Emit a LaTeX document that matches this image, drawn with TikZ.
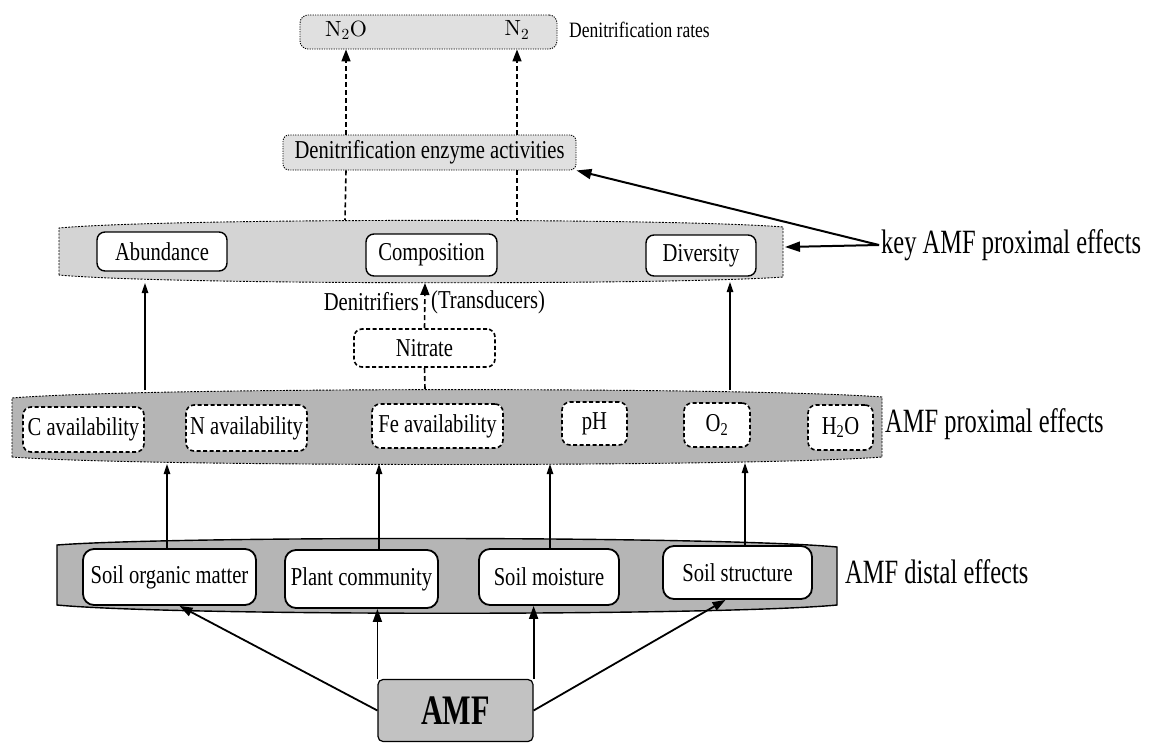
\documentclass[tikz,border=0pt]{standalone}
\usepackage{fontspec}
\setmainfont{Liberation Serif}[FakeStretch=0.8]
\newfontfamily\bigfont{Liberation Serif}[FakeStretch=0.72]
\newfontfamily\lmfont{lmroman10-regular.otf}
\usetikzlibrary{arrows.meta}
\definecolor{keygray}{gray}{0.83}
\definecolor{bandgray}{gray}{0.71}
\definecolor{topgray}{gray}{0.88}
\definecolor{amfgray}{gray}{0.76}
\begin{document}
\begin{tikzpicture}[x=1pt,y=-1pt,
  lab/.style={font=\fontsize{25.75}{28}\selectfont, inner sep=0pt},
  smlab/.style={font=\fontsize{21.9}{24}\selectfont, inner sep=0pt},
  biglab/.style={font=\bigfont\fontsize{34}{36}\selectfont, inner sep=2pt},
  keybox/.style={lab, draw, line width=1.4pt, fill=white, rounded corners=8pt},
  distbox/.style={lab, draw, line width=1.8pt, fill=white, rounded corners=11pt},
  proxbox/.style={lab, draw, line width=1.6pt, dash pattern=on 4pt off 2.5pt, fill=white, rounded corners=8pt},
  dotbox/.style={draw, line width=0.9pt, dash pattern=on 1.2pt off 1.2pt, fill=topgray, rounded corners=8pt},
  bandkey/.style={draw, line width=0.9pt, dash pattern=on 2pt off 1.3pt, fill=keygray},
  bandprox/.style={draw, line width=0.9pt, dash pattern=on 2pt off 1.3pt, fill=bandgray},
  banddist/.style={draw, line width=1.4pt, fill=bandgray},
  thinarr/.style={line width=1.2pt, -{Triangle[length=10pt,width=6.5pt]}},
  dasharr/.style={line width=1.6pt, dash pattern=on 5pt off 3pt, -{Triangle[length=12pt,width=9pt]}},
  dashline/.style={line width=1.6pt, dash pattern=on 5pt off 3pt},
  bigarr/.style={line width=2pt, -{Triangle[length=15pt,width=10pt]}},
  amfarr/.style={line width=1.8pt, -{Triangle[length=13pt,width=9pt]}}
]
\useasboundingbox (0,0) rectangle (1150,742);

% ---------- bands ----------
\draw[bandkey] (59,275) -- (59,228) .. controls (168,218) and (674,218) .. (783,227)
  -- (783,277) .. controls (674,285) and (168,285) .. (59,275) -- cycle;
\draw[bandprox] (12,457) -- (12,398) .. controls (142,387) and (752,387) .. (882,397)
  -- (882,457) .. controls (752,467) and (142,467) .. (12,457) -- cycle;
\draw[banddist] (57,605) -- (57,545) .. controls (174,536) and (720,536) .. (837,547)
  -- (837,605) .. controls (720,616) and (174,616) .. (57,605) -- cycle;

% band anchor coordinates
\coordinate (kbA) at (145,283);
\coordinate (kbC) at (425,283);
\coordinate (kbD) at (730,282);
\coordinate (ktL) at (345,220);
\coordinate (ktR) at (517,220);
\coordinate (kbE) at (785,247);
\coordinate (ptA) at (145,390);
\coordinate (ptC) at (425,389);
\coordinate (ptD) at (730,390);
\coordinate (pb1) at (167,464);
\coordinate (pb2) at (379,464);
\coordinate (pb3) at (550,464);
\coordinate (pb4) at (745,463);

% ---------- top ----------
\node[dotbox, minimum width=257pt, minimum height=34pt] (rates) at (428.5,32) {};
\node[inner sep=0pt, font=\lmfont\fontsize{22}{24}\selectfont] (n2o) at (346,30) {N\textsubscript{2}O};
\node[inner sep=0pt, font=\lmfont\fontsize{22}{24}\selectfont] (n2) at (517,30) {N\textsubscript{2}};
\node[smlab, anchor=west] (rateslbl) at (569,30) {Denitrification rates};

\node[dotbox, lab, rounded corners=6pt, minimum width=293pt, minimum height=35pt] (enz) at (429.5,152.5) {Denitrification enzyme activities};

% ---------- key level ----------
\node[keybox, minimum width=130pt, minimum height=39pt] (abund) at (162,251.5) {Abundance};
\node[keybox, minimum width=131pt, minimum height=42pt] (comp) at (431.5,255) {Composition};
\node[keybox, minimum width=110pt, minimum height=41pt] (div) at (701,255.5) {Diversity};
\node[biglab, anchor=west] (keylbl) at (879,245) {key AMF proximal effects};

\node[lab, anchor=east] (denit) at (419,302) {Denitrifiers};
\node[lab, anchor=west] (trans) at (431,302) {(Transducers)};
\node[proxbox, minimum width=141pt, minimum height=38pt] (nitrate) at (424.5,348) {Nitrate};

% ---------- proximal ----------
\node[proxbox, minimum width=121pt, minimum height=45pt] (cav) at (83.5,429.5) {C availability};
\node[proxbox, minimum width=121pt, minimum height=46pt] (nav) at (246.5,428) {N availability};
\node[proxbox, minimum width=131pt, minimum height=44pt] (feav) at (437.5,426) {Fe availability};
\node[proxbox, minimum width=65pt, minimum height=43pt] (ph) at (594.5,423.5) {pH};
\node[proxbox, minimum width=66pt, minimum height=44pt] (otwo) at (717,425) {O\textsubscript{2}};
\node[proxbox, minimum width=65pt, minimum height=45pt] (htwoo) at (840.5,427.5) {H\textsubscript{2}O};
\node[biglab, anchor=west] (proxlbl) at (883,424) {AMF proximal effects};

% ---------- distal ----------
\node[distbox, minimum width=173pt, minimum height=56pt] (som) at (169.5,577) {Soil organic matter};
\node[distbox, minimum width=153pt, minimum height=58pt] (plant) at (361.5,579) {Plant community};
\node[distbox, minimum width=140pt, minimum height=56pt] (moist) at (549,577) {Soil moisture};
\node[distbox, minimum width=149pt, minimum height=53pt] (struct) at (737.5,572.5) {Soil structure};
\node[biglab, anchor=west] (distlbl) at (843,572) {AMF distal effects};

% ---------- AMF ----------
\node[draw, line width=1.2pt, fill=amfgray, rounded corners=5pt, minimum width=155pt, minimum height=62pt,
  font=\bigfont\bfseries\fontsize{42}{44}\selectfont, inner sep=0pt] (amf) at (455.5,710.5) {AMF};

% ---------- connectors ----------
\draw[dasharr] (n2o |- enz.north) -- (n2o |- rates.south);
\draw[dasharr] (n2 |- enz.north) -- (n2 |- rates.south);
\draw[dashline] (n2o |- enz.south) -- (ktL);
\draw[dashline] (n2 |- enz.south) -- (ktR);

\draw[bigarr] (keylbl.west) -- (kbE);
\draw[bigarr] (keylbl.west) -- (enz.south east);

\draw[thinarr] (ptA) -- (kbA);
\draw[thinarr] (ptD) -- (kbD);
\draw[dashline] (ptC) -- (nitrate.south);
\draw[dasharr] (nitrate.north) -- (kbC);

\draw[thinarr] ([xshift=-2.5pt]som.north) -- (pb1);
\draw[thinarr] ([xshift=17.5pt]plant.north) -- (pb2);
\draw[thinarr] ([xshift=1pt]moist.north) -- (pb3);
\draw[thinarr] ([xshift=7.5pt]struct.north) -- (pb4);

\draw[amfarr] (amf.west) -- ([xshift=10pt]som.south);
\draw[amfarr] (amf.north west) -- (amf.north west |- plant.south);
\draw[amfarr] (amf.north east) -- (amf.north east |- moist.south);
\draw[amfarr] (amf.east) -- ([xshift=-12pt]struct.south);
\end{tikzpicture}
\end{document}
